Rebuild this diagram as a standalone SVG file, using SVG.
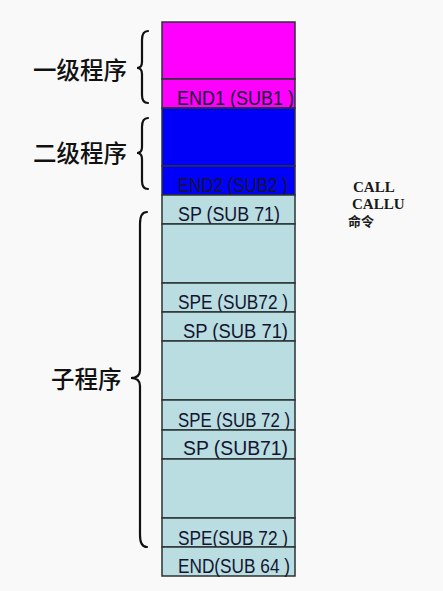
<svg xmlns="http://www.w3.org/2000/svg" width="443" height="591" viewBox="0 0 443 591">
<style>
.cell{stroke:#2b3335;stroke-width:1.5}
.mag{fill:#ff00ff}
.blu{fill:#0000fa}
.teal{fill:#b9dde0}
.lbl{font-family:"Liberation Sans",Arial,sans-serif;font-size:20.5px;fill:#141430}
.cjk{font-family:"Noto Sans CJK SC","Noto Sans CJK JP",sans-serif;font-size:23.5px;font-weight:500;fill:#111}
.cmd{font-family:"Liberation Serif","Times New Roman",serif;font-weight:bold;font-size:15px;fill:#1a1a1a}
.brace{fill:none;stroke:#111;stroke-width:2.2;stroke-linecap:round}
</style>
<rect width="443" height="591" fill="#f9f9f9"/>
<g id="level1-body"><rect class="cell mag" x="162" y="22" width="133" height="57"/></g>
<g id="end1"><rect class="cell mag" x="162" y="79" width="133" height="29"/><text class="lbl" x="177" y="105" textLength="117" lengthAdjust="spacingAndGlyphs">END1 (SUB1 )</text></g>
<g id="level2-body"><rect class="cell blu" x="162" y="108" width="133" height="58"/></g>
<g id="end2"><rect class="cell blu" x="162" y="166" width="133" height="29"/><text class="lbl" x="178" y="192" textLength="110" lengthAdjust="spacingAndGlyphs">END2 (SUB2 )</text></g>
<g id="sp1"><rect class="cell teal" x="162" y="195" width="133" height="29"/><text class="lbl" x="178" y="221" textLength="102" lengthAdjust="spacingAndGlyphs">SP (SUB 71)</text></g>
<g id="body1"><rect class="cell teal" x="162" y="224" width="133" height="59"/></g>
<g id="spe1"><rect class="cell teal" x="162" y="283" width="133" height="29"/><text class="lbl" x="178" y="309" textLength="110" lengthAdjust="spacingAndGlyphs">SPE (SUB72 )</text></g>
<g id="sp2"><rect class="cell teal" x="162" y="312" width="133" height="29"/><text class="lbl" x="183" y="338" textLength="105" lengthAdjust="spacingAndGlyphs">SP (SUB 71)</text></g>
<g id="body2"><rect class="cell teal" x="162" y="341" width="133" height="59"/></g>
<g id="spe2"><rect class="cell teal" x="162" y="400" width="133" height="30"/><text class="lbl" x="178" y="427" textLength="112" lengthAdjust="spacingAndGlyphs">SPE (SUB 72 )</text></g>
<g id="sp3"><rect class="cell teal" x="162" y="430" width="133" height="29"/><text class="lbl" x="183" y="455" textLength="105" lengthAdjust="spacingAndGlyphs">SP (SUB71)</text></g>
<g id="body3"><rect class="cell teal" x="162" y="459" width="133" height="59"/></g>
<g id="spe3"><rect class="cell teal" x="162" y="518" width="133" height="29"/><text class="lbl" x="178" y="545" textLength="110" lengthAdjust="spacingAndGlyphs">SPE(SUB 72 )</text></g>
<g id="end3"><rect class="cell teal" x="162" y="547" width="133" height="29"/><text class="lbl" x="178" y="573" textLength="112" lengthAdjust="spacingAndGlyphs">END(SUB 64 )</text></g>
<g id="label-level1"><text class="cjk" x="33" y="79">一级程序</text></g>
<g id="label-level2"><text class="cjk" x="33" y="162">二级程序</text></g>
<g id="label-sub"><text class="cjk" x="51" y="388">子程序</text></g>
<g id="call-note"><text class="cmd" x="353" y="192">CALL</text><text class="cmd" x="352" y="209">CALLU</text><text class="cmd" x="348" y="226" style="font-family:'Noto Sans CJK SC',sans-serif;font-size:13px">命令</text></g>
<g id="connectors">
<path class="brace" d="M148,31 Q142,31 142,40 L142,62 Q142,68 137,68 Q142,68 142,74 L142,95 Q142,103 148,103"/>
<path class="brace" d="M148,118 Q142,118 142,127 L142,147 Q142,153 137,153 Q142,153 142,159 L142,181 Q142,189 148,189"/>
<path class="brace" d="M147,212 Q140,212 140,224 L140,370 Q140,378 131,378 Q140,378 140,386 L140,535 Q140,547 147,547"/>
</g>
</svg>
